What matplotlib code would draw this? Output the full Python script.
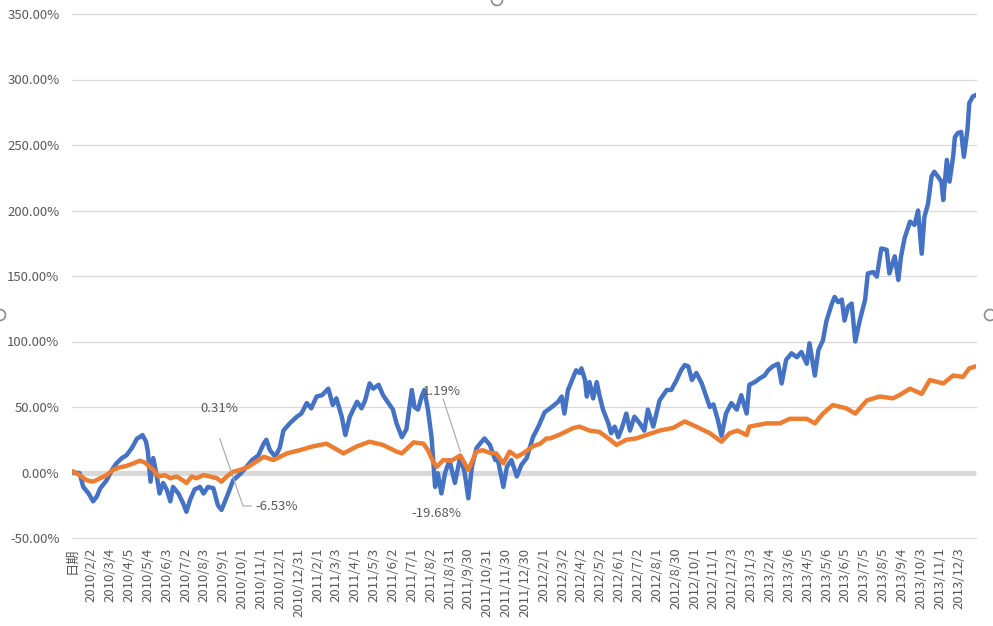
import matplotlib
matplotlib.use('Agg')
import matplotlib.pyplot as plt
from matplotlib.ticker import FuncFormatter
from matplotlib.patches import Ellipse

plt.rcParams['font.family'] = ['Noto Sans CJK SC', 'DejaVu Sans']

# category axis: header row + trading days, one label every 21 rows
n_cats = 1007
tick_step = 21
tick_labels = ['日期',
               '2010/2/2', '2010/3/4', '2010/4/5', '2010/5/4', '2010/6/3', '2010/7/2',
               '2010/8/3', '2010/9/1', '2010/10/1', '2010/11/1', '2010/12/1', '2010/12/31',
               '2011/2/1', '2011/3/3', '2011/4/1', '2011/5/3', '2011/6/2', '2011/7/1',
               '2011/8/2', '2011/8/31', '2011/9/30', '2011/10/31', '2011/11/30', '2011/12/30',
               '2012/2/1', '2012/3/2', '2012/4/2', '2012/5/2', '2012/6/1', '2012/7/2',
               '2012/8/1', '2012/8/30', '2012/10/1', '2012/11/1', '2012/12/3',
               '2013/1/3', '2013/2/4', '2013/3/6', '2013/4/5', '2013/5/6', '2013/6/5',
               '2013/7/5', '2013/8/5', '2013/9/4', '2013/10/3', '2013/11/1', '2013/12/3']

# blue series (row index, cumulative return %)
blue_idx = [1, 8, 12, 18, 23, 27, 31, 34, 38, 44, 49, 55, 60, 66, 72, 75, 78, 82, 84, 87,
            90, 94, 97, 101, 105, 109, 112, 118, 123, 127, 131, 136, 142, 146, 151, 157, 162, 166, 172, 179,
            187, 194, 200, 207, 213, 216, 220, 226, 231, 235, 242, 250, 255, 261, 266, 272, 278, 285, 290, 294,
            300, 304, 309, 317, 322, 326, 331, 335, 341, 346, 352, 357, 361, 367, 372, 378, 381, 385, 389, 392,
            396, 400, 404, 407, 411, 415, 420, 426, 432, 437, 441, 445, 450, 454, 459, 465, 471, 474, 480, 484,
            489, 495, 500, 506, 513, 519, 526, 534, 541, 545, 548, 552, 558, 561, 565, 567, 571, 573, 576, 580,
            584, 587, 591, 597, 600, 604, 608, 612, 617, 621, 626, 632, 637, 641, 647, 654, 662, 667, 673, 678,
            682, 686, 690, 695, 701, 706, 710, 714, 719, 723, 728, 734, 740, 745, 751, 754, 760, 766, 771, 775,
            780, 786, 790, 795, 801, 807, 812, 818, 821, 827, 831, 836, 840, 846, 849, 853, 857, 860, 864, 868,
            872, 877, 883, 886, 892, 896, 901, 907, 910, 916, 920, 923, 927, 933, 938, 942, 946, 949, 953, 957,
            960, 964, 968, 970, 974, 977, 981, 983, 986, 990, 993, 996, 997, 999, 1003, 1006]
blue_val = [0, -0.5, -11, -16, -22, -18.5, -12, -9.5, -6, 2, 7, 11, 13, 18.5, 26, 27, 28.6, 23.5, 16, -7,
            11, -3, -16, -8, -13, -22, -11, -16, -23, -30, -21, -13, -11, -16, -11, -12, -25, -28.6, -18.5, -6,
            -1, 4.4, 9.5, 13, 22, 25, 17, 12, 19, 32, 37.5, 42.6, 45, 53, 49, 58, 59, 64, 51.5, 56.6,
            42.6, 28.6, 42.6, 54, 49, 55, 68, 64, 67, 59, 53, 48, 37.5, 27, 33, 63, 50, 48, 58, 63,
            48, 27, -11, -0.6, -16, -0.6, 9.5, -8, 12, -0.6, -19.7, 4.4, 18.5, 22, 26, 21, 9.5, 9.5, -11, 4.4,
            9.5, -3, 5.7, 11, 27, 35, 46, 50, 54, 58, 45, 63, 73, 78, 76, 79.5, 70.6, 58, 69, 56.6,
            69, 59, 48, 37.5, 30, 35, 27, 34, 45, 32, 42.6, 37.5, 32, 48, 35, 55, 63, 63, 70.6, 78,
            82, 81, 70.6, 76, 68, 58, 50, 52, 40, 28, 45, 53, 48, 59, 45, 67, 69, 72, 74, 78,
            81, 83, 68, 86, 91, 88, 92, 83, 98.6, 74, 93.5, 101, 116, 129, 134, 130, 132, 116, 126.6, 129,
            100, 116, 132, 152, 153, 149.5, 171, 170, 152, 165, 147, 165, 179, 191.5, 189, 200, 167, 195, 205, 226,
            229.6, 226, 222, 208, 238.6, 222, 241, 256, 259, 260, 241, 256, 261.5, 282, 287, 288]

# orange series (row index, cumulative return %)
orange_idx = [1, 8, 16, 23, 31, 38, 45, 53, 60, 68, 75, 81, 86, 90, 96, 103, 109, 116, 123, 127,
              133, 138, 146, 153, 161, 166, 172, 179, 187, 196, 213, 224, 239, 253, 268, 283, 302, 317, 331, 346,
              361, 367, 380, 391, 396, 402, 406, 413, 422, 432, 441, 450, 457, 465, 472, 480, 487, 495, 502, 513,
              521, 528, 532, 543, 558, 565, 576, 587, 599, 606, 617, 628, 639, 654, 669, 682, 695, 710, 723, 732,
              741, 751, 754, 773, 788, 799, 818, 827, 836, 847, 862, 872, 885, 899, 914, 921, 933, 946, 955, 970,
              981, 992, 999, 1006]
orange_val = [0.6, -2, -6, -7, -4.4, -2, 2, 4, 5, 7, 9, 7.5, 4.4, 2, -3, -2, -4.4, -3, -6, -8,
              -3, -4.4, -2, -3, -4.4, -7, -3, 0.6, 2, 4.4, 12, 9.5, 14.6, 17, 20, 22, 14.6, 20, 23.5, 21,
              16, 14.6, 23, 22, 17, 8, 4.4, 9.5, 9, 13, 2, 16, 17, 15, 14.6, 7, 16, 12, 14.6, 20,
              22, 26, 26, 29, 34, 35, 32, 31, 25, 21, 25, 26, 28.6, 32, 34, 39, 35, 30, 23.5, 30,
              32, 28.6, 35, 37.5, 37.5, 41, 41, 37.5, 45, 51.5, 49, 45, 55, 58, 56.6, 59, 64, 60, 70.6, 68,
              74, 73, 79.5, 81]

# data labels: (text, label position, leader path)
labels = [('0.31%', (164, 49), [(164, 26), (190, -25.6), (199, -25.6)]),
          ('-6.53%', (228, -25.6), None),
          ('1.19%', (411, 61.5), [(413, 56), (432, 16)]),
          ('-19.68%', (405, -31), None)]

grey = '#595959'

fig = plt.figure(figsize=(9.93, 6.26), dpi=100)
ax = fig.add_axes([72 / 993, 88 / 626, 904 / 993, 524 / 626])

# gridlines and the thick grey horizontal axis at 0
ax.set_axisbelow(True)
ax.grid(axis='y', color='#d9d9d9', linewidth=0.9)
for gl in ax.get_ygridlines():
    gl.set_clip_on(False)
ax.axhline(0, color='#d9d9d9', linewidth=3.8, zorder=1.5)

ax.plot(blue_idx, blue_val, color='#4472C4', linewidth=3.2, solid_joinstyle='round', zorder=2)
ax.plot(orange_idx, orange_val, color='#ED7D31', linewidth=3.2, solid_joinstyle='round', zorder=3)

for text, pos, path in labels:
    ax.text(pos[0], pos[1], text, ha='center', va='center', fontsize=9.5, color=grey, zorder=5)
    if path:
        ax.plot([p[0] for p in path], [p[1] for p in path], color='#a6a6a6', linewidth=0.8, zorder=4)

ax.set_xlim(-0.5, n_cats - 0.5)
ax.set_ylim(-50, 350)
ax.set_yticks(range(-50, 351, 50))
ax.yaxis.set_major_formatter(FuncFormatter(lambda v, p: '{:.2f}%'.format(v)))
ax.set_xticks(range(0, n_cats, tick_step))
ax.set_xticklabels(tick_labels, rotation=90, va='top', ha='center')
ax.tick_params(axis='y', length=0, pad=9, labelsize=9.5, labelcolor=grey)
ax.tick_params(axis='x', length=0, pad=7, labelsize=9.5, labelcolor=grey)
for gl in ax.get_ygridlines():
    gl.set_clip_on(False)
for s in ax.spines.values():
    s.set_visible(False)

# chart selection handles (Excel)
for cx, cy in [(497, 626), (0, 311), (990, 311)]:
    fig.patches.append(Ellipse((cx / 993, cy / 626), 11 / 993, 11 / 626, transform=fig.transFigure,
                               facecolor='white', edgecolor='#8c8c8c', linewidth=1.2))

fig.savefig('out.png', dpi=100)
